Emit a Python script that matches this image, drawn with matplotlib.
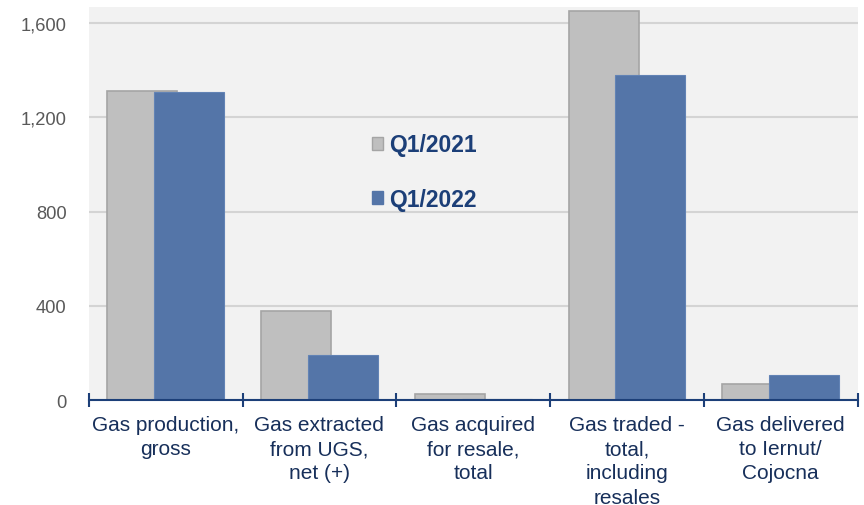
import numpy as np
import matplotlib
matplotlib.use("Agg")
import matplotlib.pyplot as plt
from matplotlib.patches import Patch

plt.rcParams['font.family'] = ['Liberation Sans', 'DejaVu Sans']

categories = ["Gas production,\ngross", "Gas extracted\nfrom UGS,\nnet (+)",
              "Gas acquired\nfor resale,\ntotal", "Gas traded -\ntotal,\nincluding\nresales",
              "Gas delivered\nto Iernut/\nCojocna"]
q1_2021 = [1311, 378, 25, 1651, 67]
q1_2022 = [1307, 189, 4, 1378, 107]
series_names = ["Q1/2021", "Q1/2022"]
yticks = [0, 400, 800, 1200, 1600]

gray = "#bfbfbf"
gray_edge = "#a5a5a5"
blue = "#5475a8"
navy = "#1c3f78"

fig = plt.figure(figsize=(8.64, 5.06), dpi=100)
ax = fig.add_axes([0.1027, 0.2075, 0.890, 0.7767])
ax.set_facecolor("#f2f2f2")

x = np.arange(len(categories))
w = 0.456
off = 0.152
ax.bar(x - off, q1_2021, w, color=gray, edgecolor=gray_edge, linewidth=1.2, zorder=2)
ax.bar(x + off, q1_2022, w, color=blue, edgecolor="#6283b5", linewidth=0.8, zorder=3)

ax.set_xlim(-0.5, len(categories) - 0.5)
ax.set_ylim(0, 1668)
ax.set_yticks(yticks)
ax.set_yticklabels([f"{v:,}" for v in yticks], fontsize=13.2, color="#595959")
ax.yaxis.grid(True, color="#d4d4d4", linewidth=1.5, zorder=0)
ax.set_axisbelow(True)
ax.tick_params(axis='y', length=0, pad=16)

for s in ["top", "right", "left"]:
    ax.spines[s].set_visible(False)
ax.spines["bottom"].set_color(navy)
ax.spines["bottom"].set_linewidth(1.5)
ax.spines["bottom"].set_zorder(4)

# category boundaries as ticks
ax.set_xticks(np.arange(len(categories) + 1) - 0.5)
ax.set_xticklabels([])
ax.tick_params(axis='x', which='major', direction='inout', length=10, width=1.5, color=navy)
ax.set_xticks(x, minor=True)
ax.set_xticklabels(categories, minor=True, fontsize=15, color="#172f5a", linespacing=1.34)
ax.tick_params(axis='x', which='minor', length=0, pad=11)

handles = [Patch(facecolor=gray, edgecolor=gray_edge), Patch(facecolor=blue, edgecolor=blue)]
leg = ax.legend(handles, series_names, loc="center left", bbox_to_anchor=(0.417, 0.658),
                bbox_transform=fig.transFigure, frameon=False, handlelength=0.48,
                handleheight=0.48, handletextpad=0.3, labelspacing=1.36, borderpad=0,
                prop={'size': 16.5, 'weight': 'bold'})
for t in leg.get_texts():
    t.set_color(navy)

fig.savefig("out.png", dpi=100)
